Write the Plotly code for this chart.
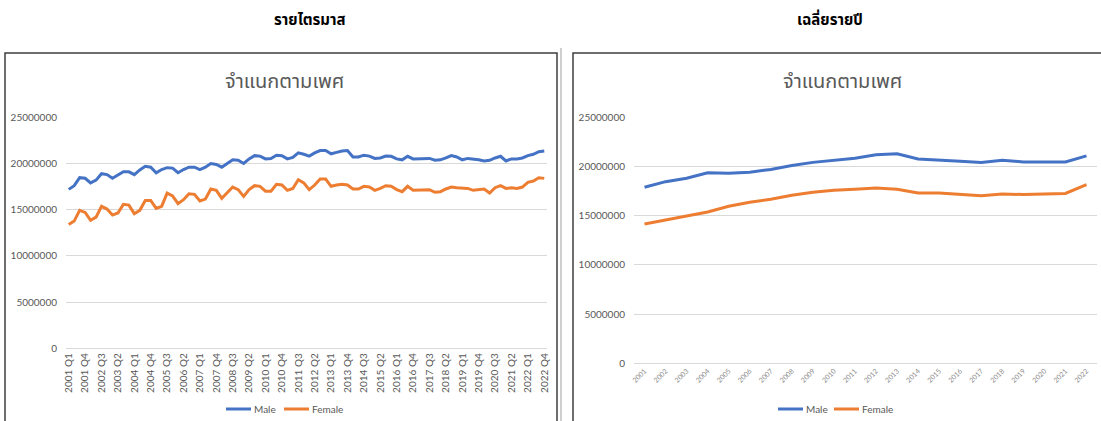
import plotly.graph_objects as go

# ---- data -------------------------------------------------------------
years = list(range(2001, 2023))
quarters = [f"{y} Q{q}" for y in years for q in range(1, 5)]
series_names = ["Male", "Female"]

male_q = [
    17.2, 17.6, 18.47, 18.4, 17.9, 18.2, 18.9, 18.8, 18.4, 18.75, 19.1, 19.1,
    18.8, 19.3, 19.7, 19.6, 19.0, 19.35, 19.55, 19.5, 19.0, 19.35, 19.6, 19.6,
    19.35, 19.6, 20.0, 19.9, 19.6, 20.0, 20.4, 20.35, 20.0, 20.5, 20.85, 20.8,
    20.5, 20.55, 20.9, 20.85, 20.5, 20.65, 21.15, 21.0, 20.8, 21.15, 21.4, 21.4,
    21.05, 21.2, 21.35, 21.4, 20.7, 20.7, 20.9, 20.8, 20.55, 20.6, 20.8, 20.78,
    20.5, 20.4, 20.78, 20.5, 20.5, 20.5, 20.55, 20.35, 20.4, 20.6, 20.85, 20.7,
    20.4, 20.55, 20.5, 20.4, 20.27, 20.35, 20.6, 20.78, 20.27, 20.5, 20.5, 20.6,
    20.85, 21.0, 21.28, 21.35,
]
female_q = [
    13.4, 13.77, 14.93, 14.7, 13.85, 14.2, 15.36, 15.07, 14.42, 14.64, 15.58, 15.5,
    14.57, 14.93, 16.0, 16.0, 15.14, 15.36, 16.8, 16.5, 15.65, 16.08, 16.73, 16.66,
    15.94, 16.15, 17.24, 17.1, 16.23, 16.8, 17.45, 17.17, 16.44, 17.17, 17.6, 17.53,
    17.0, 17.0, 17.74, 17.67, 17.1, 17.3, 18.25, 17.9, 17.17, 17.67, 18.32, 18.32,
    17.53, 17.67, 17.74, 17.67, 17.24, 17.24, 17.53, 17.45, 17.1, 17.3, 17.6, 17.53,
    17.17, 16.95, 17.53, 17.1, 17.1, 17.17, 17.17, 16.88, 16.95, 17.24, 17.45, 17.38,
    17.38, 17.3, 17.1, 17.17, 17.24, 16.8, 17.38, 17.6, 17.3, 17.38, 17.3, 17.45,
    17.96, 18.1, 18.46, 18.39,
]

year_labels = [str(y) for y in years]
male_y = [17.89, 18.46, 18.8, 19.36, 19.31, 19.42, 19.7, 20.1, 20.42, 20.6, 20.83,
          21.2, 21.3, 20.77, 20.68, 20.53, 20.4, 20.64, 20.46, 20.46, 20.46, 21.08]
female_y = [14.16, 14.57, 15.0, 15.38, 15.96, 16.36, 16.67, 17.07, 17.38, 17.58, 17.68,
            17.82, 17.68, 17.31, 17.31, 17.15, 17.02, 17.2, 17.15, 17.2, 17.26, 18.16]

male_q = [v * 1e6 for v in male_q]
female_q = [v * 1e6 for v in female_q]
male_y = [v * 1e6 for v in male_y]
female_y = [v * 1e6 for v in female_y]

# ---- styling ----------------------------------------------------------
W, H = 1101, 421
COLORS = {"Male": "#4472C4", "Female": "#ED7D31"}
GRID = "#D9D9D9"
TXT = "#595959"
NUM_FONT = "Lato, Carlito, Calibri, sans-serif"
THAI_FONT = "Noto Sans Thai, Tahoma, Leelawadee UI, sans-serif"


def px(x):
    return x / W


def py(y):
    return 1 - y / H


fig = go.Figure()

panels = [
    ("x", "y", quarters, {"Male": male_q, "Female": female_q}),
    ("x2", "y2", year_labels, {"Male": male_y, "Female": female_y}),
]
for xa, ya, cats, data in panels:
    for name in series_names:
        fig.add_trace(go.Scatter(x=cats, y=data[name], name=name, mode="lines",
                                 line=dict(color=COLORS[name], width=3),
                                 xaxis=xa, yaxis=ya, showlegend=False))

yaxis_common = dict(range=[0, 25e6], dtick=5e6, tickformat="d", showgrid=True,
                    gridcolor=GRID, gridwidth=1, zeroline=False, showline=False,
                    ticks="", tickfont=dict(family=NUM_FONT, size=10, color=TXT),
                    ticklabelstandoff=8, fixedrange=True, automargin=False)

fig.update_layout(
    width=W, height=H,
    margin=dict(l=0, r=0, t=0, b=0),
    paper_bgcolor="white", plot_bgcolor="white",
    showlegend=False,
    xaxis=dict(domain=[px(66), px(547)], type="category", range=[-0.5, 87.5],
               tickmode="array", tickvals=quarters[::3], ticktext=quarters[::3],
               tickangle=-90, showgrid=False, zeroline=False,
               showline=True, linecolor=GRID, linewidth=1, ticks="",
               tickfont=dict(family=NUM_FONT, size=10, color=TXT),
               automargin=False, fixedrange=True, anchor="y"),
    yaxis=dict(domain=[py(348.3), py(117.3)], anchor="x", **yaxis_common),
    xaxis2=dict(domain=[px(634), px(1097)], type="category", range=[-0.5, 21.5],
                tickangle=-45, showgrid=False, zeroline=False,
                showline=True, linecolor=GRID, linewidth=1, ticks="",
                tickfont=dict(family=NUM_FONT, size=7, color="#8C8C8C"),
                automargin=False, fixedrange=True, anchor="y2"),
    yaxis2=dict(domain=[py(363.3), py(117.3)], anchor="x2", **yaxis_common),
)

# chart frames
fig.add_shape(type="rect", xref="paper", yref="paper",
              x0=px(5), x1=px(557), y0=py(440), y1=py(53),
              line=dict(color="#3F3F3F", width=1.5), layer="below")
fig.add_shape(type="line", xref="paper", yref="paper",
              x0=px(561), x1=px(561), y0=py(440), y1=py(48),
              line=dict(color="#BFBFBF", width=1.5), layer="below")
fig.add_shape(type="rect", xref="paper", yref="paper",
              x0=px(573), x1=px(1110), y0=py(440), y1=py(53),
              line=dict(color="#3F3F3F", width=1.5), layer="below")

# compact legends below each chart (short line swatch + label)
legend_rows = [
    (409, [226, 284]),   # quarterly chart: swatch start per entry
    (409, [778, 834]),   # annual chart
]
for ly, starts in legend_rows:
    for name, x0 in zip(series_names, starts):
        fig.add_shape(type="line", xref="paper", yref="paper",
                      x0=px(x0), x1=px(x0 + 25), y0=py(ly), y1=py(ly),
                      line=dict(color=COLORS[name], width=3))
        fig.add_annotation(text=name, x=px(x0 + 26), y=py(ly), xref="paper",
                           yref="paper", showarrow=False, xanchor="left",
                           yanchor="middle",
                           font=dict(family=NUM_FONT, size=10, color=TXT))

# headings
heading = dict(xref="paper", yref="paper", showarrow=False,
               xanchor="center", yanchor="middle")
fig.add_annotation(text="<b>รายไตรมาส</b>", x=px(310), y=py(20),
                   font=dict(family=THAI_FONT, size=15, color="#000000"), **heading)
fig.add_annotation(text="<b>เฉลี่ยรายปี</b>", x=px(830), y=py(20),
                   font=dict(family=THAI_FONT, size=15, color="#000000"), **heading)
fig.add_annotation(text="จำแนกตามเพศ", x=px(284), y=py(82),
                   font=dict(family=THAI_FONT, size=20, color=TXT), **heading)
fig.add_annotation(text="จำแนกตามเพศ", x=px(842), y=py(82),
                   font=dict(family=THAI_FONT, size=20, color=TXT), **heading)

fig.write_html("out.html")
